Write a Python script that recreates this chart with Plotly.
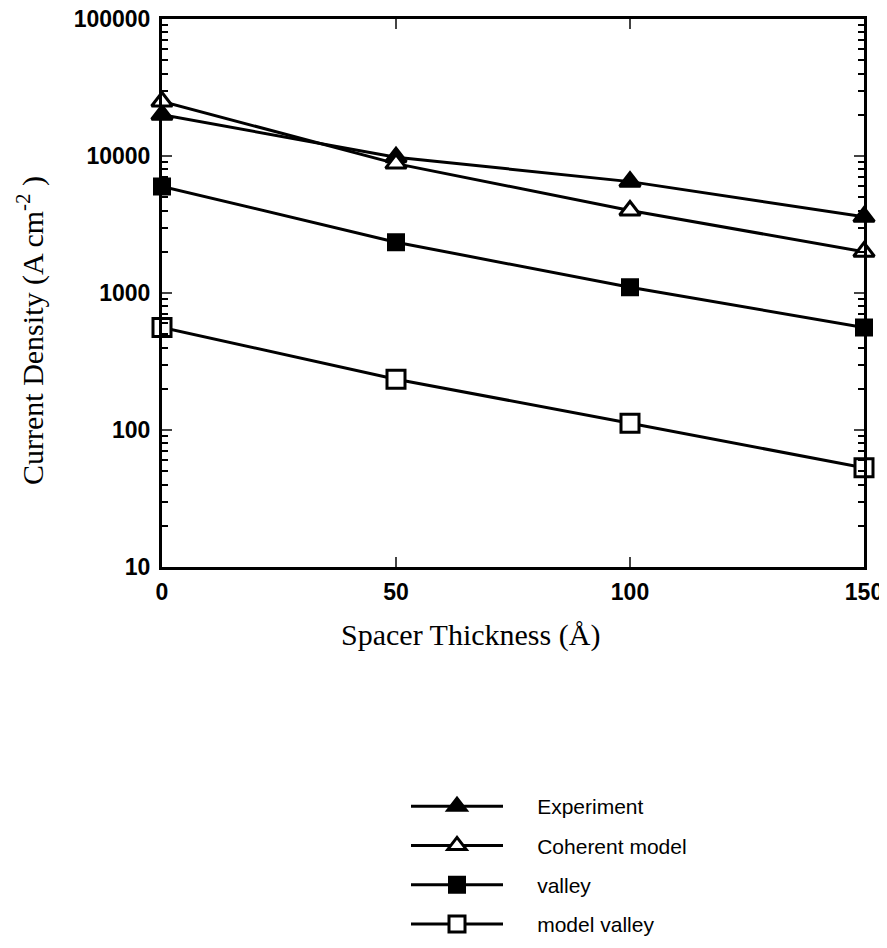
import plotly.graph_objects as go

spacer = [0, 50, 100, 150]
experiment = [20000, 9800, 6500, 3600]
coherent = [25000, 8800, 4000, 2000]
valley = [6000, 2350, 1100, 560]
model_valley = [560, 235, 112, 53]

ytick_vals = [10, 100, 1000, 10000, 100000]
ytick_text = ["10", "100", "1000", "10000", "100000"]
xtick_vals = [0, 50, 100, 150]
minor_vals = [m * d for d in [10, 100, 1000, 10000] for m in range(2, 10)]

# name, values, symbol, fill, size
series = [
    ("Experiment", experiment, "triangle-up", "black", 18),
    ("Coherent model", coherent, "triangle-up", "white", 18),
    ("valley", valley, "square", "black", 15),
    ("model valley", model_valley, "square", "white", 18),
]

fig = go.Figure()
for name, vals, sym, fill, sz in series:
    fig.add_trace(go.Scatter(
        x=spacer, y=vals, name="\u00a0" * 5 + name, mode="lines+markers",
        line=dict(color="black", width=3),
        marker=dict(symbol=sym, size=sz, color=fill,
                    line=dict(color="black", width=3)),
        cliponaxis=False, legendgroup=name,
    ))

# page body has an 8px margin; work in figure coordinates
OFF = 8
W, H = 887 - OFF, 948 - 2 * OFF
L, T = 162 - OFF, 19 - OFF
R = W - (864 - OFF)
B = H - (567 - OFF)
pw, ph = W - L - R, H - T - B


def px(xs):
    return (xs - OFF - L) / pw


def py(ys):
    return (ph + T - (ys - OFF)) / ph


fig.update_layout(
    width=W, height=H,
    paper_bgcolor="white", plot_bgcolor="white",
    margin=dict(l=L, r=R, t=T, b=B, autoexpand=False),
    font=dict(family="Liberation Sans, Arial", color="black"),
    showlegend=True,
    legend=dict(
        x=px(406), y=py(786), xanchor="left", yanchor="top",
        font=dict(family="Liberation Sans, Arial", size=21, color="black"),
        itemwidth=92, tracegroupgap=9, bgcolor="rgba(0,0,0,0)",
    ),
    annotations=[
        dict(text="Spacer Thickness (Å)", xref="paper", yref="paper",
             x=px(470), y=py(635), xanchor="center", yanchor="middle",
             showarrow=False,
             font=dict(family="Liberation Serif, Times New Roman", size=30, color="black")),
        dict(text="Current Density (A cm<sup>-2</sup> )", xref="paper", yref="paper",
             x=px(30), y=py(331), xanchor="center", yanchor="middle",
             textangle=-90, showarrow=False,
             font=dict(family="Liberation Serif, Times New Roman", size=30, color="black")),
    ],
)

fig.update_xaxes(
    range=[0, 150], tickvals=xtick_vals, ticks="inside", ticklen=10, tickwidth=2,
    showline=True, linewidth=3, linecolor="black", mirror="allticks",
    showgrid=False, zeroline=False, automargin=False, ticklabeloverflow="allow",
    tickfont=dict(family="Liberation Sans, Arial", size=23, color="black", weight="bold"),
    ticklabelstandoff=2,
)
fig.update_yaxes(
    type="log", range=[1, 5], tickvals=ytick_vals, ticktext=ytick_text,
    ticks="inside", ticklen=10, tickwidth=2,
    minor=dict(tickvals=minor_vals, ticks="inside", ticklen=6, tickwidth=2,
               tickcolor="black", showgrid=False),
    showline=True, linewidth=3, linecolor="black", mirror="allticks",
    showgrid=False, zeroline=False, automargin=False, ticklabeloverflow="allow",
    tickfont=dict(family="Liberation Sans, Arial", size=23, color="black", weight="bold"),
    ticklabelstandoff=4,
)

fig.write_html("out.html")
